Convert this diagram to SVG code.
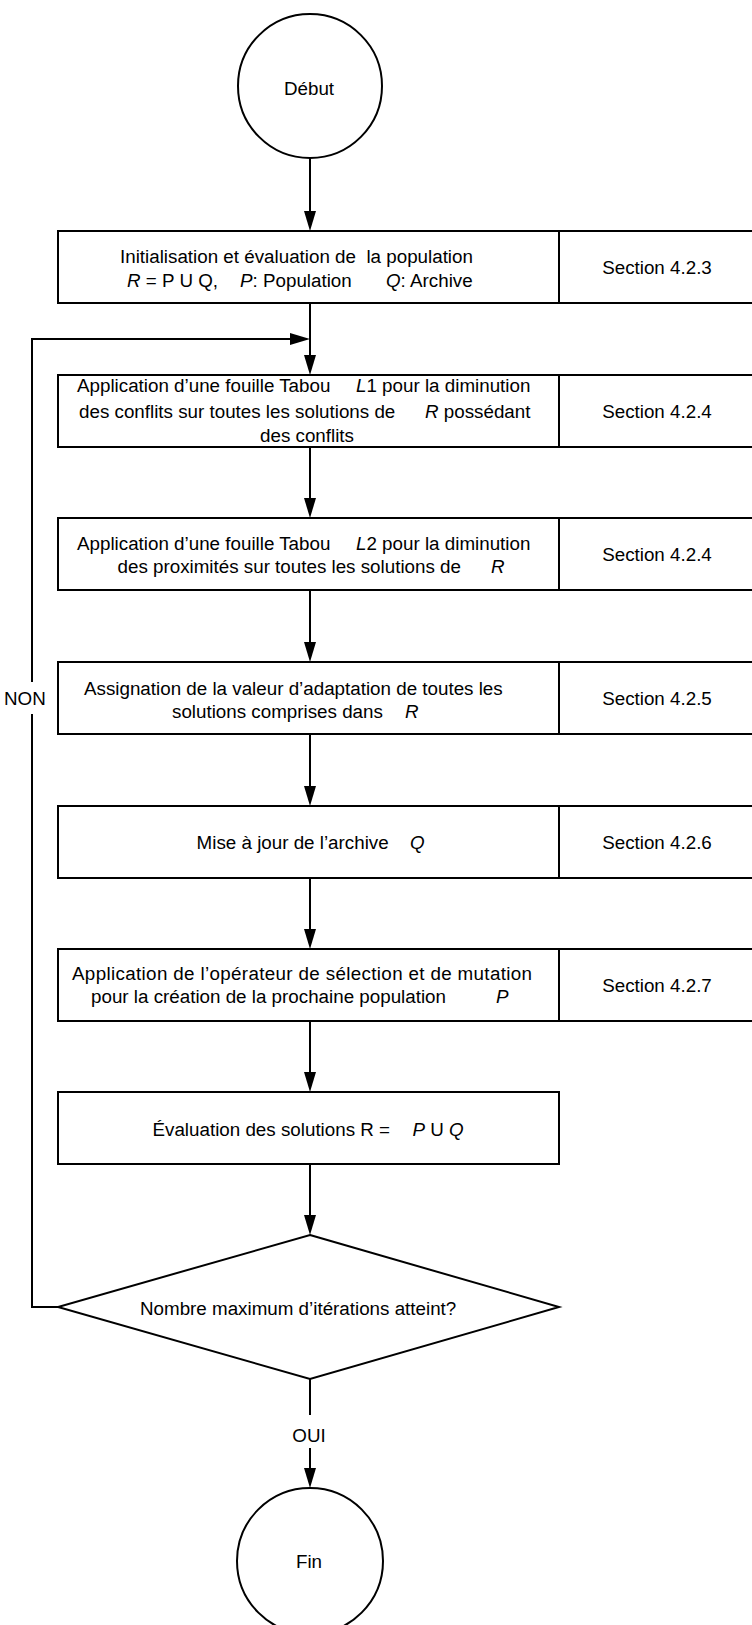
<svg xmlns="http://www.w3.org/2000/svg" width="752" height="1625" viewBox="0 0 752 1625">
<style>
.t{font-family:"Liberation Sans",Arial,Helvetica,sans-serif;font-size:18.8px;fill:#000;white-space:pre}
.m{text-anchor:middle}
.i{font-style:italic}
.s{fill:#fff;stroke:#000;stroke-width:2}
.c{fill:none;stroke:#000;stroke-width:2}
</style>
<defs>
<marker id="arr" markerUnits="userSpaceOnUse" markerWidth="20" markerHeight="12" refX="0" refY="6" orient="auto" viewBox="0 0 20 12"><path d="M0,0 L20,6 L0,12 z" fill="#000"/></marker>
</defs>
<rect width="752" height="1625" fill="#fff"/>
<g id="connectors">
<path class="c" d="M310,158 V211" marker-end="url(#arr)"/>
<path class="c" d="M310,303 V355" marker-end="url(#arr)"/>
<path class="c" d="M58,1307 H32 V714 M32,682 V339 H290" marker-end="url(#arr)"/>
<path class="c" d="M310,447 V498" marker-end="url(#arr)"/>
<path class="c" d="M310,590 V642" marker-end="url(#arr)"/>
<path class="c" d="M310,734 V786" marker-end="url(#arr)"/>
<path class="c" d="M310,878 V929" marker-end="url(#arr)"/>
<path class="c" d="M310,1021 V1072" marker-end="url(#arr)"/>
<path class="c" d="M310,1164 V1215" marker-end="url(#arr)"/>
<path class="c" d="M310,1379 V1415"/>
<path class="c" d="M310,1448 V1468" marker-end="url(#arr)"/>
<text class="t" x="4" y="704.5">NON</text>
<text class="t m" x="309" y="1442">OUI</text>
</g>
<g id="debut">
<circle class="s" cx="310" cy="86" r="72"/>
<text class="t m" x="309" y="95">Début</text>
</g>
<g id="init">
<rect class="s" x="58" y="231" width="702" height="72"/>
<line class="c" x1="559" y1="231" x2="559" y2="303"/>
<text class="t" y="263"><tspan x="120">Initialisation et évaluation de  la population</tspan></text>
<text class="t" y="286.5"><tspan x="127"><tspan class="i">R</tspan> = P U Q,</tspan><tspan x="240"><tspan class="i">P</tspan>: Population</tspan><tspan x="386"><tspan class="i">Q</tspan>: Archive</tspan></text>
<text class="t m" x="657" y="274">Section 4.2.3</text>
</g>
<g id="tabou1">
<rect class="s" x="58" y="375" width="702" height="72"/>
<line class="c" x1="559" y1="375" x2="559" y2="447"/>
<text class="t" y="391.5"><tspan x="77">Application d’une fouille Tabou</tspan><tspan x="356"><tspan class="i">L</tspan>1 pour la diminution</tspan></text>
<text class="t" y="417.5"><tspan x="79">des conflits sur toutes les solutions de</tspan><tspan x="425"><tspan class="i">R</tspan> possédant</tspan></text>
<text class="t m" x="307" y="442">des conflits</text>
<text class="t m" x="657" y="418">Section 4.2.4</text>
</g>
<g id="tabou2">
<rect class="s" x="58" y="518" width="702" height="72"/>
<line class="c" x1="559" y1="518" x2="559" y2="590"/>
<text class="t" y="550"><tspan x="77">Application d’une fouille Tabou</tspan><tspan x="356"><tspan class="i">L</tspan>2 pour la diminution</tspan></text>
<text class="t" y="573"><tspan x="117.5">des proximités sur toutes les solutions de</tspan><tspan x="491" class="i">R</tspan></text>
<text class="t m" x="657" y="561">Section 4.2.4</text>
</g>
<g id="assignation">
<rect class="s" x="58" y="662" width="702" height="72"/>
<line class="c" x1="559" y1="662" x2="559" y2="734"/>
<text class="t" y="695"><tspan x="84">Assignation de la valeur d’adaptation de toutes les</tspan></text>
<text class="t" y="718"><tspan x="172">solutions comprises dans</tspan><tspan x="405" class="i">R</tspan></text>
<text class="t m" x="657" y="704.5">Section 4.2.5</text>
</g>
<g id="archive">
<rect class="s" x="58" y="806" width="702" height="72"/>
<line class="c" x1="559" y1="806" x2="559" y2="878"/>
<text class="t" y="848.5"><tspan x="196.6">Mise à jour de l’archive</tspan><tspan x="410" class="i">Q</tspan></text>
<text class="t m" x="657" y="848.5">Section 4.2.6</text>
</g>
<g id="selection">
<rect class="s" x="58" y="949" width="702" height="72"/>
<line class="c" x1="559" y1="949" x2="559" y2="1021"/>
<text class="t" x="72" y="980" textLength="460" lengthAdjust="spacing">Application de l’opérateur de sélection et de mutation</text>
<text class="t" y="1003"><tspan x="91">pour la création de la prochaine population</tspan><tspan x="496" class="i">P</tspan></text>
<text class="t m" x="657" y="991.5">Section 4.2.7</text>
</g>
<g id="evaluation">
<rect class="s" x="58" y="1092" width="501" height="72"/>
<text class="t" y="1136"><tspan x="152.5">Évaluation des solutions R =</tspan><tspan x="412.5"><tspan class="i">P</tspan> U <tspan class="i">Q</tspan></tspan></text>
</g>
<g id="decision">
<polygon class="s" points="310,1235 559,1307 310,1379 58,1307"/>
<text class="t" x="140" y="1315">Nombre maximum d’itérations atteint?</text>
</g>
<g id="fin">
<circle class="s" cx="310" cy="1561" r="73"/>
<text class="t m" x="309" y="1568">Fin</text>
</g>
</svg>
